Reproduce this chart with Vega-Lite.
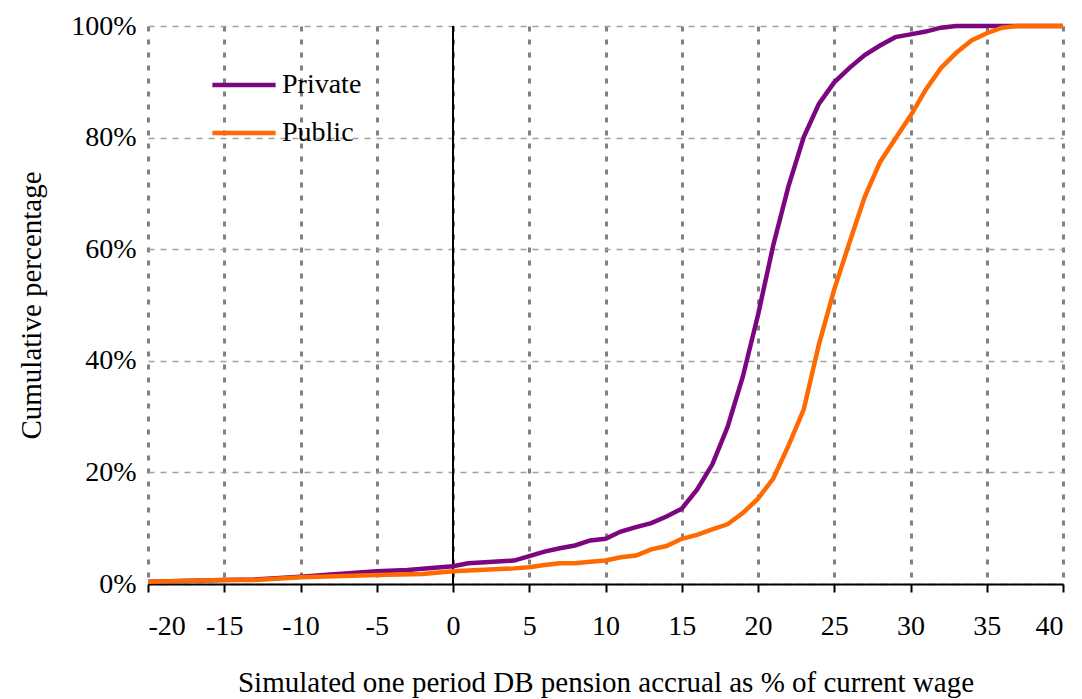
{
  "$schema": "https://vega.github.io/schema/vega-lite/v6.json",
  "width": 915,
  "height": 558,
  "autosize": {"type": "none"},
  "padding": {"left": 148, "top": 26, "right": 19, "bottom": 115},
  "config": {
    "font": "Liberation Serif",
    "view": {"stroke": null},
    "axis": {"labelFont": "Liberation Serif", "titleFont": "Liberation Serif", "labelFontSize": 28, "titleFontSize": 29, "titleFontWeight": "normal", "labelColor": "black", "titleColor": "black"}
  },
  "data": {"values": [
    {"x": -20, "s": "Private", "y": 0.004}, {"x": -15, "s": "Private", "y": 0.007}, {"x": -13, "s": "Private", "y": 0.008},
    {"x": -10, "s": "Private", "y": 0.013}, {"x": -8, "s": "Private", "y": 0.017}, {"x": -5, "s": "Private", "y": 0.023},
    {"x": -3, "s": "Private", "y": 0.025}, {"x": 0, "s": "Private", "y": 0.032}, {"x": 1, "s": "Private", "y": 0.037},
    {"x": 4, "s": "Private", "y": 0.042}, {"x": 5, "s": "Private", "y": 0.05}, {"x": 6, "s": "Private", "y": 0.058},
    {"x": 7, "s": "Private", "y": 0.064}, {"x": 8, "s": "Private", "y": 0.069}, {"x": 9, "s": "Private", "y": 0.078},
    {"x": 10, "s": "Private", "y": 0.081}, {"x": 11, "s": "Private", "y": 0.094}, {"x": 12, "s": "Private", "y": 0.102},
    {"x": 13, "s": "Private", "y": 0.109}, {"x": 14, "s": "Private", "y": 0.121}, {"x": 15, "s": "Private", "y": 0.135},
    {"x": 16, "s": "Private", "y": 0.169}, {"x": 17, "s": "Private", "y": 0.214}, {"x": 18, "s": "Private", "y": 0.281},
    {"x": 19, "s": "Private", "y": 0.371}, {"x": 20, "s": "Private", "y": 0.482}, {"x": 21, "s": "Private", "y": 0.607},
    {"x": 22, "s": "Private", "y": 0.713}, {"x": 23, "s": "Private", "y": 0.801}, {"x": 24, "s": "Private", "y": 0.861},
    {"x": 25, "s": "Private", "y": 0.899}, {"x": 26, "s": "Private", "y": 0.925}, {"x": 27, "s": "Private", "y": 0.948},
    {"x": 28, "s": "Private", "y": 0.965}, {"x": 29, "s": "Private", "y": 0.98}, {"x": 30, "s": "Private", "y": 0.985},
    {"x": 31, "s": "Private", "y": 0.99}, {"x": 32, "s": "Private", "y": 0.997}, {"x": 33, "s": "Private", "y": 1.0},
    {"x": 40, "s": "Private", "y": 1.0},
    {"x": -20, "s": "Public", "y": 0.004}, {"x": -15, "s": "Public", "y": 0.007}, {"x": -13, "s": "Public", "y": 0.007},
    {"x": -10, "s": "Public", "y": 0.012}, {"x": -5, "s": "Public", "y": 0.016}, {"x": -2, "s": "Public", "y": 0.018},
    {"x": 0, "s": "Public", "y": 0.023}, {"x": 4, "s": "Public", "y": 0.028}, {"x": 5, "s": "Public", "y": 0.03},
    {"x": 6, "s": "Public", "y": 0.034}, {"x": 7, "s": "Public", "y": 0.037}, {"x": 8, "s": "Public", "y": 0.037},
    {"x": 9, "s": "Public", "y": 0.04}, {"x": 10, "s": "Public", "y": 0.042}, {"x": 11, "s": "Public", "y": 0.048},
    {"x": 12, "s": "Public", "y": 0.051}, {"x": 13, "s": "Public", "y": 0.062}, {"x": 14, "s": "Public", "y": 0.068},
    {"x": 15, "s": "Public", "y": 0.081}, {"x": 16, "s": "Public", "y": 0.088}, {"x": 17, "s": "Public", "y": 0.098},
    {"x": 18, "s": "Public", "y": 0.107}, {"x": 19, "s": "Public", "y": 0.127}, {"x": 20, "s": "Public", "y": 0.153},
    {"x": 21, "s": "Public", "y": 0.189}, {"x": 22, "s": "Public", "y": 0.248}, {"x": 23, "s": "Public", "y": 0.313},
    {"x": 24, "s": "Public", "y": 0.43}, {"x": 25, "s": "Public", "y": 0.528}, {"x": 26, "s": "Public", "y": 0.612},
    {"x": 27, "s": "Public", "y": 0.694}, {"x": 28, "s": "Public", "y": 0.756}, {"x": 29, "s": "Public", "y": 0.798},
    {"x": 30, "s": "Public", "y": 0.839}, {"x": 31, "s": "Public", "y": 0.886}, {"x": 32, "s": "Public", "y": 0.925},
    {"x": 33, "s": "Public", "y": 0.952}, {"x": 34, "s": "Public", "y": 0.974}, {"x": 35, "s": "Public", "y": 0.987},
    {"x": 36, "s": "Public", "y": 0.997}, {"x": 37, "s": "Public", "y": 1.0}, {"x": 40, "s": "Public", "y": 1.0}
  ]},
  "layer": [
    {
      "mark": {"type": "rule", "color": "black", "strokeWidth": 2},
      "encoding": {"x": {"datum": 0, "type": "quantitative", "scale": {"domain": [-20, 40]}}}
    },
    {
      "mark": {"type": "line", "strokeWidth": 4.5},
      "encoding": {
        "x": {"field": "x", "type": "quantitative", "scale": {"domain": [-20, 40], "nice": false},
          "title": "Simulated one period DB pension accrual as % of current wage",
          "axis": {"values": [-20, -15, -10, -5, 0, 5, 10, 15, 20, 25, 30, 35, 40], "labelExpr": "'' + datum.value", "grid": true, "gridColor": "#808080", "gridDash": [5, 8], "gridWidth": 3,
            "domainColor": "black", "domainWidth": 2, "tickColor": "black", "tickWidth": 2, "tickSize": 8, "labelPadding": 20, "titlePadding": 28}},
        "y": {"field": "y", "type": "quantitative", "scale": {"domain": [0, 1], "nice": false},
          "title": "Cumulative percentage",
          "axis": {"format": "%", "values": [0, 0.2, 0.4, 0.6, 0.8, 1], "grid": true, "gridColor": "#a0a0a0", "gridDash": [6, 6], "gridWidth": 1.5,
            "domain": false, "ticks": false, "labelPadding": 12, "titlePadding": 24}},
        "color": {"field": "s", "type": "nominal", "title": null,
          "scale": {"domain": ["Private", "Public"], "range": ["#7b0680", "#ff6a00"]},
          "legend": {"orient": "none", "legendX": 62, "legendY": 25, "symbolType": "stroke", "symbolSize": 4000, "symbolStrokeWidth": 4.5,
            "labelFontSize": 28, "labelFont": "Liberation Serif", "labelColor": "black", "rowPadding": 0, "labelOffset": 4}}
      }
    }
  ]
}
